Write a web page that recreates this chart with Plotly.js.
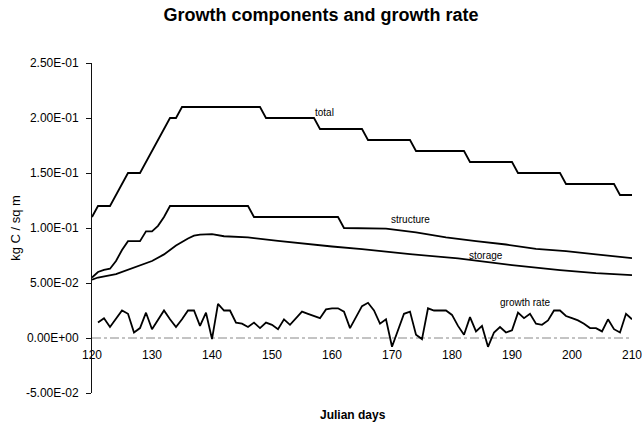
<!DOCTYPE html>
<html><head><meta charset="utf-8">
<script src="https://cdn.plot.ly/plotly-3.0.1.min.js"></script>
<style>html,body{margin:0;padding:0;background:#fff}</style>
</head><body><div id="chart" style="width:642px;height:427px"></div>
<script>
// ---- data ----
const totalDays = [120,121,122,123,124,125,126,127,128,129,130,131,132,133,134,135,136,137,138,139,140,141,142,143,144,145,146,147,148,149,150,151,152,153,154,155,156,157,158,159,160,161,162,163,164,165,166,167,168,169,170,171,172,173,174,175,176,177,178,179,180,181,182,183,184,185,186,187,188,189,190,191,192,193,194,195,196,197,198,199,200,201,202,203,204,205,206,207,208,209,210];
const totalVals = [0.11,0.12,0.12,0.12,0.13,0.14,0.15,0.15,0.15,0.16,0.17,0.18,0.19,0.20,0.20,
  0.21,0.21,0.21,0.21,0.21,0.21,0.21,0.21,0.21,0.21,0.21,0.21,0.21,0.21,
  0.20,0.20,0.20,0.20,0.20,0.20,0.20,0.20,0.20,
  0.19,0.19,0.19,0.19,0.19,0.19,0.19,0.19,
  0.18,0.18,0.18,0.18,0.18,0.18,0.18,0.18,
  0.17,0.17,0.17,0.17,0.17,0.17,0.17,0.17,0.17,
  0.16,0.16,0.16,0.16,0.16,0.16,0.16,0.16,
  0.15,0.15,0.15,0.15,0.15,0.15,0.15,0.15,
  0.14,0.14,0.14,0.14,0.14,0.14,0.14,0.14,0.14,
  0.13,0.13,0.13];

const structDays = [120,121,122,123,124,125,126,128,129,130,131,132,133,146,147,161,162,169,174,179,184,189,194,199,204,210];
const structVals = [0.055,0.060,0.062,0.063,0.070,0.080,0.088,0.088,0.097,0.097,0.102,0.110,0.120,0.120,0.110,0.110,0.100,0.0995,0.096,0.0914,0.088,0.085,0.081,0.079,0.076,0.0726];

const storDays = [120,121,124,127,130,132,134,136,137,138,140,142,146,151,156,160,165,173,181,190,198,204,210];
const storVals = [0.053,0.055,0.058,0.064,0.070,0.076,0.084,0.0905,0.093,0.094,0.0944,0.0925,0.0914,0.0883,0.0853,0.0832,0.0808,0.0762,0.0723,0.0662,0.0617,0.059,0.0572];

const rateDays = [121,122,123,124,125,126,127,128,129,130,131,132,133,134,135,136,137,138,139,140,141,142,143,144,145,146,147,148,149,150,151,152,153,154,155,156,157,158,159,160,161,162,163,164,165,166,167,168,169,170,171,172,173,174,175,176,177,178,179,180,181,182,183,184,185,186,187,188,189,190,191,192,193,194,195,196,197,198,199,200,201,202,203,204,205,206,207,208,209,210];
const rateVals = [0.014,0.018,0.010,0.018,0.025,0.022,0.005,0.009,0.023,0.008,0.017,0.025,0.017,0.010,0.017,0.025,0.025,0.011,0.023,-0.001,
  0.031,0.025,0.025,0.014,0.013,0.010,0.014,0.009,0.014,0.012,0.008,0.017,0.012,0.018,0.024,0.022,0.020,0.018,0.026,0.027,
  0.027,0.024,0.009,0.019,0.029,0.032,0.025,0.013,0.017,-0.008,0.007,0.022,0.024,0.003,-0.001,0.027,0.025,0.025,0.025,0.021,
  0.011,0.003,0.019,0.006,0.011,-0.008,0.005,0.010,0.005,0.007,0.023,0.018,0.022,0.013,0.012,0.016,0.025,0.025,0.020,0.018,
  0.016,0.013,0.009,0.009,0.006,0.017,0.008,0.005,0.022,0.017];

const xTicks = [120,130,140,150,160,170,180,190,200,210];
const yTicks = [-0.05,0,0.05,0.10,0.15,0.20,0.25];
const yTickText = ['-5.00E-02','0.00E+00','5.00E-02','1.00E-01','1.50E-01','2.00E-01','2.50E-01'];

const seriesLabels = ['total','structure','storage','growth rate'];
const labelX = [158.7,173,185.7,192.2];
const labelY = [0.205,0.108,0.0753,0.0327];

// ---- chart ----
const lineStyle = {color:'#000', width:1.8};
const traces = [
  {x: totalDays, y: totalVals, name: 'total'},
  {x: structDays, y: structVals, name: 'structure'},
  {x: storDays, y: storVals, name: 'storage'},
  {x: rateDays, y: rateVals, name: 'growth rate'}
].map(t => Object.assign(t, {type:'scatter', mode:'lines', line: lineStyle, hoverinfo:'skip'}));

const yr = [-0.05, 0.25];
const layout = {
  width: 642, height: 427,
  margin: {l: 92, r: 10, t: 63, b: 34},
  paper_bgcolor: '#fff', plot_bgcolor: '#fff',
  showlegend: false,
  font: {family: 'Liberation Sans, Arial, sans-serif', color: '#000', size: 12},
  title: {text: '<b>Growth components and growth rate</b>', font: {size: 18, color:'#000'},
          x: 0.5, xref: 'container', y: 1 - 15/427, yref: 'container', yanchor: 'middle'},
  xaxis: {
    range: [120, 210], tickvals: xTicks, ticktext: xTicks.map(String),
    anchor: 'free', position: (0 - yr[0]) / (yr[1] - yr[0]),
    showline: false, ticks: '', showgrid: false, zeroline: false,
    tickfont: {size: 12}, ticklabelstandoff: 8, ticklabeloverflow: 'allow'
  },
  yaxis: {
    range: yr, tickvals: yTicks, ticktext: yTickText,
    showline: true, linecolor: '#111', linewidth: 1,
    ticks: 'outside', ticklen: 5, tickcolor: '#111',
    showgrid: false, zeroline: false,
    tickfont: {size: 12}, ticklabelstandoff: 5,
    title: {text: 'kg C / sq m', font: {size: 13}, standoff: 2}
  },
  shapes: [{type:'line', xref:'paper', x0:0, x1:1, yref:'y', y0:0, y1:0,
            line:{color:'#888', width:1, dash:'dashdot'}, layer:'below'}],
  annotations: seriesLabels.map((s,i) => ({
    text: s, x: labelX[i], y: labelY[i], xref:'x', yref:'y',
    showarrow: false, font: {size: 10, color:'#000'}
  })).concat([{
    text: '<b>Julian days</b>', xref: 'paper', yref: 'paper',
    x: (353 - 92) / 540, y: (393 - 415) / 330, yanchor: 'middle', xanchor: 'center',
    showarrow: false, font: {size: 12, color: '#000'}
  }])
};

Plotly.newPlot('chart', traces, layout, {staticPlot: true, displayModeBar: false});
</script></body></html>
